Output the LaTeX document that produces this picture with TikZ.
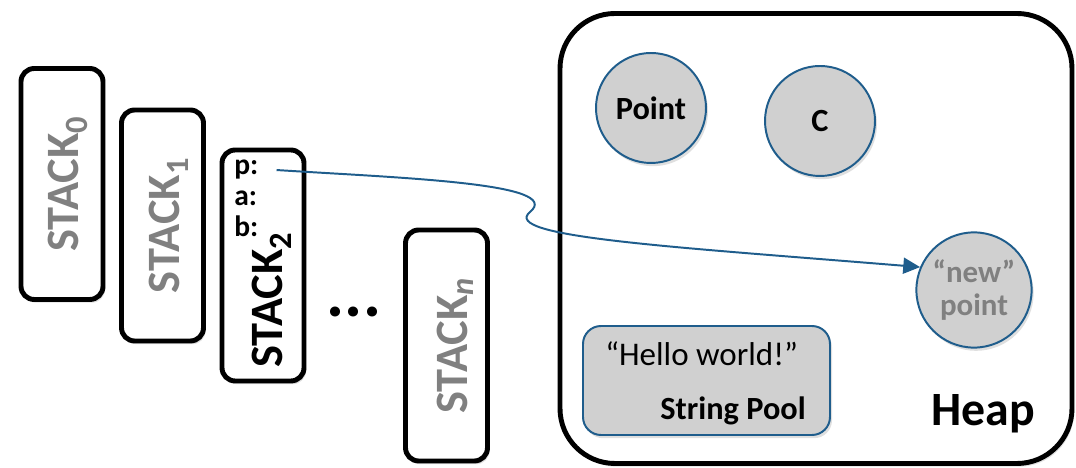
\documentclass[tikz,border=0pt]{standalone}
\usepackage{fontspec}
\setmainfont{Carlito}
\usetikzlibrary{arrows.meta,shadows}

\definecolor{heapblue}{RGB}{31,93,140}
\definecolor{objgray}{RGB}{208,208,208}
\definecolor{labelgray}{RGB}{128,128,128}

\tikzset{
  softshadow/.style={drop shadow={shadow xshift=0.5mm, shadow yshift=-0.8mm, opacity=0.25}},
  stackbox/.style={draw, fill=white, line width=3.5pt, rounded corners=0.33cm,
    minimum width=2.05cm, minimum height=5.775cm, softshadow},
  stacklabel/.style={rotate=90, inner sep=0pt, font=\fontsize{33}{38}\selectfont\bfseries},
  field/.style={anchor=base west, inner sep=0pt, font=\fontsize{21}{24}\selectfont\bfseries},
  object/.style={draw=heapblue, fill=objgray, circle, line width=1.4pt,
    minimum size=2.75cm, softshadow, font=\fontsize{23}{26}\selectfont\bfseries},
  pointer/.style={heapblue, line width=1.4pt, -{Triangle[length=0.42cm, width=0.4cm]}}
}

\begin{document}
\begin{tikzpicture}[scale=1]
      \useasboundingbox (0,0) rectangle (26.9,11.7);
      \clip (0,0) rectangle (26.9,11.7);
      % the stacks
      \foreach \i/\x/\y in {0/1.55/7.1, 1/4.0625/6.0625}
               {
                 \node (stack\i) at (\x,\y) [stackbox] {};
                 \node at ([xshift=0.15cm]stack\i.center) [stacklabel, labelgray] {STACK\textsubscript{\i}};
               }
      \node (stack2) at (6.575,5.0625) [stackbox] {};
      \node at (6.79,2.5) [stacklabel, anchor=west] {STACK\textsubscript{2}};
      \node (fieldp) at (5.85,7.325) [field] {p:};
      \node (fielda) at (5.85,6.55) [field] {a:};
      \node (fieldb) at (5.85,5.775) [field] {b:};
      \node (dots) at (8.85,3.9) [font=\fontsize{48}{50}\selectfont\bfseries] {...};
      \node (stackn) at (11.1625,3.0625) [stackbox] {};
      \node at ([xshift=0.22cm]stackn.center) [stacklabel, labelgray] {STACK\textsubscript{\itshape n}};
      % the heap
      \node (heap) at (20.4,5.7375) [draw, fill=white, line width=3.5pt, rounded corners=1.375cm,
            minimum width=12.8cm, minimum height=11.25cm, softshadow] {};
      \node (point) at (16.275,9.0) [object] {Point};
      \node (classc) at (20.5,8.675) [object] {C};
      \node (newpt) at (24.35,4.45) [object, text=labelgray, align=center,
            font=\fontsize{22}{23}\selectfont\bfseries] {“new”\\point};
      \node (pool) at (17.6625,2.1875) [draw=heapblue, fill=objgray, line width=1.4pt, rounded corners=0.45cm,
            minimum width=6.175cm, minimum height=2.725cm, softshadow] {};
      \node at (15.125,2.55) [anchor=base west, inner sep=0pt, font=\fontsize{23.5}{25}\selectfont] {“Hello world!”};
      \node at (20.15,1.2) [anchor=base east, inner sep=0pt, font=\fontsize{23}{25}\selectfont\bfseries] {String Pool};
      \node at (25.875,1.05) [anchor=base east, inner sep=0pt, font=\fontsize{34}{36}\selectfont\bfseries] {Heap};
      % reference from p to the new object
      \draw[pointer] ([xshift=0.45cm]fieldp.east) .. controls (10.0,7.25) and (14.125,7.125) .. (13.25,6.4)
            .. controls (12.5,5.775) and (16.7,5.5375) .. (newpt.157);
\end{tikzpicture}
\end{document}
